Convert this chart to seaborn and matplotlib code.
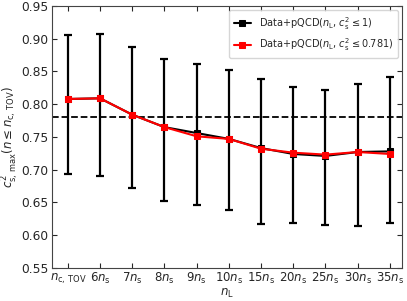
import numpy as np
import pandas as pd
import matplotlib
matplotlib.use("Agg")
import matplotlib.pyplot as plt
import seaborn as sns

# categories on the x axis
labels = [r"$n_{\rm c,\,TOV}$", r"$6n_{\rm s}$", r"$7n_{\rm s}$", r"$8n_{\rm s}$", r"$9n_{\rm s}$",
          r"$10n_{\rm s}$", r"$15n_{\rm s}$", r"$20n_{\rm s}$", r"$25n_{\rm s}$", r"$30n_{\rm s}$",
          r"$35n_{\rm s}$"]

# c_s^2 <= 1 series, with asymmetric error bars
cs2_free = [0.808, 0.809, 0.784, 0.765, 0.756, 0.747, 0.733, 0.724, 0.721, 0.727, 0.728]
err_top = [0.906, 0.908, 0.887, 0.869, 0.861, 0.853, 0.838, 0.827, 0.822, 0.831, 0.841]
err_bot = [0.694, 0.690, 0.672, 0.652, 0.646, 0.638, 0.617, 0.619, 0.616, 0.614, 0.619]

# c_s^2 <= 0.781 series
cs2_lim = [0.808, 0.809, 0.784, 0.765, 0.751, 0.747, 0.732, 0.726, 0.723, 0.727, 0.724]

cs2_bound = 0.781


def make_plot():
    sns.set_style("ticks")
    plt.rcParams["font.family"] = ["DejaVu Sans"]
    plt.rcParams["mathtext.fontset"] = "dejavusans"

    x = np.arange(len(labels))
    df = pd.DataFrame({"x": x, "free": cs2_free, "lim": cs2_lim})

    fig, ax = plt.subplots(figsize=(4.07, 3.01), dpi=100)

    ax.errorbar(x, cs2_free,
                yerr=[np.array(cs2_free) - np.array(err_bot), np.array(err_top) - np.array(cs2_free)],
                fmt="none", ecolor="black", elinewidth=1.6, capsize=3, capthick=1.6, zorder=2)
    sns.lineplot(data=df, x="x", y="free", ax=ax, color="black", marker="s", markersize=5,
                 markeredgecolor="black", linewidth=1.5,
                 label=r"Data+pQCD($n_{\rm L}$, $c_{\rm s}^2\leq 1$)", zorder=3)
    sns.lineplot(data=df, x="x", y="lim", ax=ax, color="red", marker="s", markersize=5,
                 markeredgecolor="red", linewidth=1.5,
                 label=r"Data+pQCD($n_{\rm L}$, $c_{\rm s}^2\leq 0.781$)", zorder=4)
    ax.axhline(cs2_bound, color="black", linestyle="--", linewidth=1.3, zorder=1)

    ax.set_xlim(-0.49, 10.38)
    ax.set_ylim(0.55, 0.95)
    ax.set_yticks(np.arange(0.55, 0.951, 0.05))
    ax.set_yticklabels([f"{v:.2f}" for v in np.arange(0.55, 0.951, 0.05)])
    ax.set_xticks(x)
    ax.set_xticklabels(labels)
    ax.tick_params(direction="in", top=True, right=True, length=3.5, pad=2.5)
    ax.tick_params(axis="y", labelsize=8.8)
    ax.tick_params(axis="x", labelsize=8.5)
    ax.set_xlabel(r"$n_{\rm L}$", fontsize=8.5, labelpad=0)
    ax.set_ylabel(r"$c^2_{\rm s,\,max}(n\leq n_{\rm c,\,TOV})$", fontsize=8.5, labelpad=0)
    for s in ax.spines.values():
        s.set_color("#444444")

    ax.legend(loc="upper right", fontsize=7, handlelength=1.8, borderpad=0.5,
              frameon=True, fancybox=True, borderaxespad=0.4)

    fig.subplots_adjust(left=0.128, right=0.988, top=0.98, bottom=0.11)
    fig.savefig("out.png", dpi=100)


make_plot()
